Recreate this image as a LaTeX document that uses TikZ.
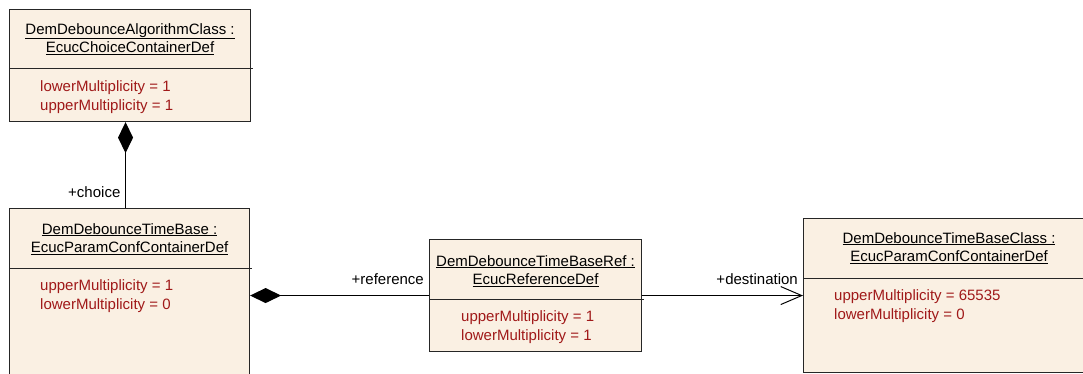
\documentclass[tikz,border=0pt]{standalone}
\usepackage{fontspec}
\setmainfont{Liberation Sans}
\usetikzlibrary{arrows.meta,positioning}
\definecolor{classfill}{RGB}{250,240,227}
\definecolor{attrred}{RGB}{160,25,25}

\begin{document}
\begin{tikzpicture}[x=1pt, y=-1pt,
  every node/.style={font=\fontsize{15}{18.5}\selectfont},
  classbox/.style={draw=black!85, fill=classfill, line width=1.1pt, anchor=north west, inner sep=0pt},
  title/.style={align=center, inner sep=0pt},
  attr/.style={align=left, text=attrred, anchor=west, inner sep=0pt},
  role/.style={anchor=east, inner sep=0pt},
  divider/.style={draw=black!85, line width=1pt},
  comp/.style={-{Diamond[length=31pt,width=15pt]}, line width=1pt},
  assoc/.style={-{Straight Barb[length=21pt,width=18pt]}, line width=1pt}]

\useasboundingbox (0,0) rectangle (1083,374);
\clip (0,0) rectangle (1083,374);

% class boxes
\node[classbox, minimum width=241pt, minimum height=112pt] (algo) at (9,9) {};
\node[classbox, minimum width=240pt, minimum height=200pt] (tb) at (9,208) {};
\node[classbox, minimum width=212pt, minimum height=112pt] (ref) at (429,239) {};
\node[classbox, minimum width=291pt, minimum height=154pt] (cls) at (803,218) {};

% compartments
\draw[divider] ([yshift=-60pt]algo.north west) -- ([xshift=2pt,yshift=-60pt]algo.north east);
\draw[divider] ([yshift=-60pt]tb.north west) -- ([xshift=2pt,yshift=-60pt]tb.north east);
\draw[divider] ([yshift=-60pt]ref.north west) -- ([xshift=2pt,yshift=-60pt]ref.north east);
\draw[divider] ([yshift=-60pt]cls.north west) -- ([xshift=2pt,yshift=-60pt]cls.north east);

% names
\node[title] (algoname) at ([yshift=-30pt]algo.north) {\underline{DemDebounceAlgorithmClass :}\\\underline{EcucChoiceContainerDef}};
\node[title] (tbname) at ([yshift=-31pt]tb.north) {\underline{DemDebounceTimeBase :}\\\underline{EcucParamConfContainerDef}};
\node[title] (refname) at ([yshift=-32pt]ref.north) {\underline{DemDebounceTimeBaseRef :}\\\underline{EcucReferenceDef}};
\node[title] (clsname) at ([yshift=-30pt]cls.north) {\underline{DemDebounceTimeBaseClass :}\\\underline{EcucParamConfContainerDef}};

% attributes
\node[attr] (algoattr) at ([xshift=31pt,yshift=-88pt]algo.north west) {lowerMultiplicity = 1\\upperMultiplicity = 1};
\node[attr] (tbattr) at ([xshift=31pt,yshift=-88pt]tb.north west) {upperMultiplicity = 1\\lowerMultiplicity = 0};
\node[attr] (refattr) at ([xshift=32pt,yshift=-88pt]ref.north west) {upperMultiplicity = 1\\lowerMultiplicity = 1};
\node[attr] (clsattr) at ([xshift=31pt,yshift=-88pt]cls.north west) {upperMultiplicity = 65535\\lowerMultiplicity = 0};

% connectors
\draw[comp] ([xshift=-4pt]tb.north) -- ([xshift=-4pt]tb.north |- algo.south);
\draw[comp] (ref.west) -- (ref.west -| tb.east);
\draw[assoc] (ref.east) -- (cls.west);

% role names
\node[role] (choice) at ([xshift=-9pt,yshift=16pt]tb.north) {+choice};
\node[role] (reference) at ([xshift=-5pt,yshift=16pt]ref.west) {+reference};
\node[role] (destination) at ([xshift=-5pt,yshift=16pt]cls.west) {+destination};

\end{tikzpicture}
\end{document}
